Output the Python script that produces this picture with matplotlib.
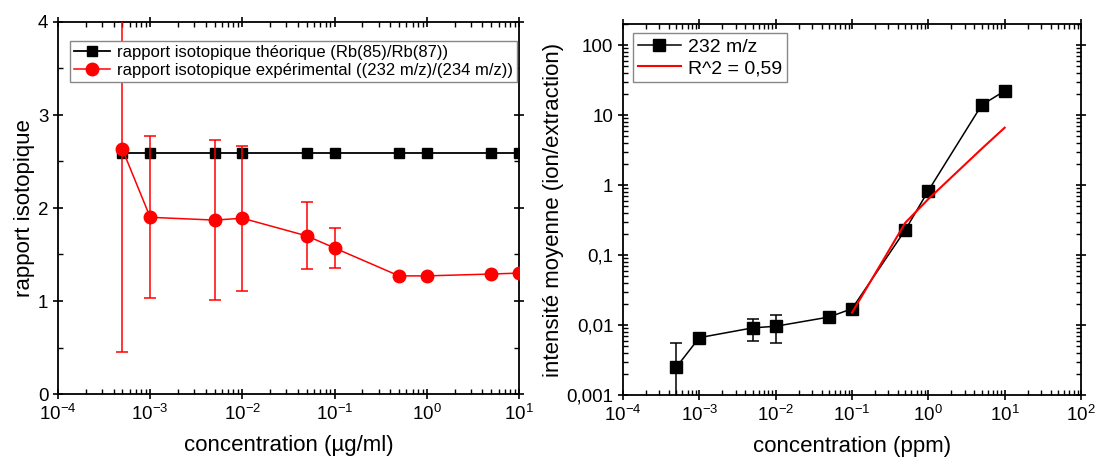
import numpy as np
import matplotlib
matplotlib.use("Agg")
import matplotlib.pyplot as plt
from matplotlib.lines import Line2D
from matplotlib.ticker import LogLocator, FixedLocator, FixedFormatter, NullFormatter, MultipleLocator

plt.rcParams["font.family"] = ["Liberation Sans", "DejaVu Sans"]
plt.rcParams["mathtext.fontset"] = "custom"
plt.rcParams["mathtext.rm"] = "Liberation Sans"
plt.rcParams["mathtext.it"] = "Liberation Sans"

# ---- données ----
conc = [5e-4, 1e-3, 5e-3, 1e-2, 5e-2, 1e-1, 5e-1, 1, 5, 10]

ratio_theo = [2.59, 2.59, 2.59, 2.59, 2.59, 2.59, 2.59, 2.59, 2.59, 2.59]
ratio_exp = [2.63, 1.90, 1.87, 1.89, 1.70, 1.57, 1.27, 1.27, 1.29, 1.30]
ratio_err = [2.18, 0.87, 0.86, 0.78, 0.36, 0.21, 0.0, 0.0, 0.0, 0.0]

intens = [0.0025, 0.0066, 0.0091, 0.0096, 0.0130, 0.0171, 0.229, 0.83, 13.9, 22.1]
intens_err = [0.0031, 0.0006, 0.0031, 0.0041, 0.0008, 0.0, 0.0, 0.0, 0.0, 0.0]

fit_x = [0.1, 0.5, 1, 5, 10]
fit_y = [0.015, 0.29, 0.63, 3.3, 6.6]

label_theo = "rapport isotopique théorique (Rb(85)/Rb(87))"
label_exp = "rapport isotopique expérimental ((232 m/z)/(234 m/z))"
label_232 = "232 m/z"
label_fit = "R^2 = 0,59"

fig = plt.figure(figsize=(10.96, 4.65), dpi=100)
ax1 = fig.add_axes([58 / 1096, (465 - 394) / 465, 461 / 1096, 372 / 465])
ax2 = fig.add_axes([623 / 1096, (465 - 395) / 465, 458 / 1096, 371 / 465])


def style_ticks(ax):
    ax.tick_params(which="major", direction="inout", length=7, width=1.2,
                   top=True, right=True, labelsize=13.5)
    ax.tick_params(which="minor", direction="in", length=3.5, width=1.0,
                   top=True, right=True)
    for s in ax.spines.values():
        s.set_linewidth(1.3)


def log_xaxis(ax):
    ax.set_xscale("log")
    ax.xaxis.set_major_locator(LogLocator(base=10, numticks=20))
    ax.xaxis.set_minor_locator(LogLocator(base=10, subs=np.arange(2, 10), numticks=20))
    ax.xaxis.set_minor_formatter(NullFormatter())
    ax.xaxis.set_major_formatter(
        matplotlib.ticker.FuncFormatter(lambda v, p: r"$\mathregular{10^{%d}}$" % round(np.log10(v))))


def legend_box(ax, handles, anchor, size, hlen):
    leg = ax.legend(handles=handles, loc="upper left", bbox_to_anchor=anchor, fontsize=size,
                    handlelength=hlen, fancybox=False, framealpha=1, edgecolor="#888888",
                    borderpad=0.25, labelspacing=0.2, handletextpad=0.4, borderaxespad=0)
    leg.get_frame().set_linewidth(1.0)
    return leg


# ---- gauche : rapport isotopique ----
ax1.plot(conc, ratio_theo, color="black", marker="s", markersize=7, linewidth=1.3, zorder=3)
ax1.errorbar(conc, ratio_exp, yerr=ratio_err, color="red", marker="o", markersize=9,
             linewidth=1.1, elinewidth=1.1, capsize=4, capthick=1.1, zorder=4)
log_xaxis(ax1)
ax1.set_xlim(1e-4, 10)
ax1.set_ylim(0, 4)
ax1.yaxis.set_major_locator(MultipleLocator(1))
ax1.yaxis.set_minor_locator(MultipleLocator(0.5))
style_ticks(ax1)
ax1.set_xlabel("concentration (µg/ml)", fontsize=16, labelpad=8)
ax1.set_ylabel("rapport isotopique", fontsize=16, labelpad=2)
legend_box(ax1, [
    Line2D([], [], color="black", marker="s", markersize=7, linewidth=1.3, label=label_theo),
    Line2D([], [], color="red", marker="o", markersize=9, linewidth=1.1, label=label_exp),
], (0.026, 0.95), 12, 2.15)

# ---- droite : intensité moyenne ----
ax2.errorbar(conc, intens, yerr=intens_err, color="black", marker="s", markersize=9,
             linewidth=1.1, elinewidth=1.1, capsize=4, capthick=1.1, zorder=3)
ax2.plot(fit_x, fit_y, color="red", linewidth=1.5, zorder=4)
log_xaxis(ax2)
ax2.set_xlim(1e-4, 1e2)
ax2.set_yscale("log")
ax2.set_ylim(1e-3, 200)
yt = [1e-3, 1e-2, 1e-1, 1, 10, 100]
ax2.yaxis.set_major_locator(FixedLocator(yt))
ax2.yaxis.set_major_formatter(FixedFormatter(["0,001", "0,01", "0,1", "1", "10", "100"]))
ax2.yaxis.set_minor_locator(LogLocator(base=10, subs=np.arange(2, 10), numticks=20))
ax2.yaxis.set_minor_formatter(NullFormatter())
style_ticks(ax2)
ax2.set_xlabel("concentration (ppm)", fontsize=16, labelpad=8)
ax2.set_ylabel("intensité moyenne (ion/extraction)", fontsize=16, labelpad=2)
legend_box(ax2, [
    Line2D([], [], color="black", marker="s", markersize=9, linewidth=1.1, label=label_232),
    Line2D([], [], color="red", linewidth=1.5, label=label_fit),
], (0.022, 0.975), 14, 2.2)

fig.savefig("out.png", dpi=100)
